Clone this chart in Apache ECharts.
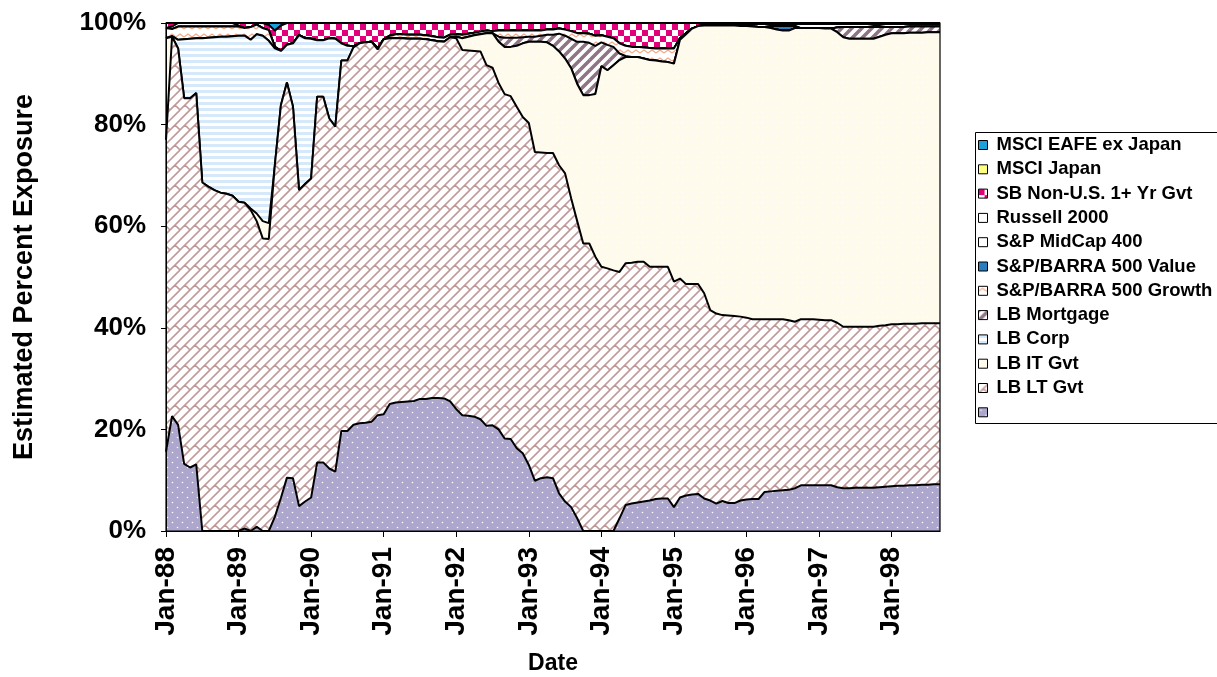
<!DOCTYPE html>
<html><head><meta charset="utf-8">
<script src="https://cdn.jsdelivr.net/npm/echarts/dist/echarts.min.js"></script>
<style>html,body{margin:0;padding:0;background:#fff}#c{width:1217px;height:677px}</style>
</head><body><div id="c"></div>
<script>
// ---------- tick labels ----------
const months = ['Jan','Feb','Mar','Apr','May','Jun','Jul','Aug','Sep','Oct','Nov','Dec'];
const years = ['88','89','90','91','92','93','94','95','96','97','98'];
const yTicks = [0, 20, 40, 60, 80, 100];

// ---------- series values (percent), monthly Jan-88 .. Sep-98 ----------
const unnamed = [15.6,22.6,20.9,13.2,12.5,13.1,0,0,0,0,
0,0,0,0.5,0,0.8,0,0,2.8,6.5,
10.5,10.4,4.9,5.8,6.6,13.5,13.5,12.3,11.7,19.7,
19.7,20.9,21.2,21.3,21.5,22.8,23.0,25.0,25.3,25.4,
25.5,25.6,26.0,26.0,26.2,26.2,26.1,25.5,24.0,22.8,
22.7,22.5,22.0,20.7,20.8,20.0,18.2,18.1,16.3,15.3,
13.0,9.9,10.4,10.6,10.4,7.4,5.8,4.7,2.5,0,
0,0,0,0,0,2.5,5.1,5.4,5.6,5.8,
6.0,6.3,6.4,6.4,4.7,6.6,7.0,7.2,7.3,6.4,
6.0,5.4,5.9,5.5,5.5,6.0,6.2,6.3,6.3,7.7,
7.8,7.9,8.0,8.1,8.4,9.0,9.0,9.0,9.0,9.0,
9.0,8.6,8.4,8.4,8.5,8.5,8.5,8.5,8.6,8.7,
8.8,8.9,8.9,9.0,9.0,9.1,9.1,9.2,9.2];

const lbLtGvt = [61.4,74.7,74.1,72.0,72.7,73.1,68.6,67.8,67.1,66.6,
66.4,66.0,64.8,64.1,63.2,60.2,57.6,57.5,69.2,77.3,
77.8,73.1,62.2,62.5,62.8,72.0,72.0,68.9,67.9,72.9,
72.9,74.3,74.8,74.9,74.8,72.0,73.8,72.0,71.7,71.6,
71.4,71.3,70.9,70.8,70.4,70.2,70.2,71.7,73.0,71.9,
71.9,72.0,72.4,71.0,70.4,68.2,67.8,67.5,67.2,66.2,
67.3,64.7,64.1,63.8,64.0,64.6,64.6,60.8,58.5,56.6,
56.6,54.0,52.0,51.7,51.3,48.5,47.6,47.4,47.4,47.2,
46.0,45.7,45.6,45.6,44.4,43.1,41.6,41.4,41.3,40.4,
37.5,37.4,36.6,36.9,36.8,36.2,35.8,35.4,35.4,34.0,
33.9,33.8,33.7,33.4,32.8,32.7,32.7,32.7,32.6,32.5,
32.5,32.4,31.8,31.8,31.7,31.7,31.7,31.7,31.8,31.8,
31.9,31.8,31.9,31.8,31.8,31.8,31.8,31.7,31.7];

const lbItGvt = [20.0,0,0,0,0,0,0,0,0,0,
0,0,0,0,0.3,1.5,3.4,3.1,0,0,
0,0,0,0,0,0,0,0,0,0,
0,0,0,0,0,0,0,0,0,0,
0,0,0,0,0,0,0,0,0.3,2.3,
2.7,3.1,3.4,6.3,6.8,8.1,9.3,9.7,12.0,14.5,
16.0,21.7,21.8,21.8,21.1,22.4,22.6,25.6,27.0,29.2,
29.2,32.0,39.5,39.0,40.4,41.7,40.6,40.5,40.3,40.0,
40.7,40.6,40.4,40.3,42.9,47.0,49.2,50.3,50.8,52.7,
56.0,56.7,57.0,57.1,57.2,57.2,57.4,57.6,57.5,57.5,
57.3,57.0,56.8,57.0,57.8,57.3,57.3,57.3,57.4,57.4,
57.4,57.2,57.0,56.7,56.7,56.7,56.7,56.7,56.9,57.2,
57.3,57.3,57.2,57.3,57.3,57.2,57.3,57.3,57.3];

const lbCorp = [0,0.1,1.7,11.6,11.7,10.8,28.4,29.3,30.1,30.7,
30.9,31.4,32.7,32.9,33.2,35.3,36.5,35.9,23.0,10.7,
7.4,12.5,30.5,28.7,27.5,11.1,11.1,15.8,17.3,3.4,
2.9,0.2,0,0,0,0.2,0,0,0,0,
0,0,0,0,0,0,0,0,0,0,
0,0,0,0,0,0,0,0,0,0,
0,0,0,0,0,0,0,0,0,0,
0,0,0,0,0,0,0,0,0,0,
0,0,0,0,0,0,0,0,0,0,
0,0,0,0,0,0,0,0,0,0,
0,0,0,0,0,0,0,0,0,0,
0,0,0,0,0,0,0,0,0,0,
0,0,0,0,0,0,0,0,0];

const lbMortgage = [0,0,0,0,0,0,0,0,0,0,
0,0,0,0,0,0,0,0,0,0,
0,0,0,0,0,0,0,0,0,0,
0,0,0,0,0,0,0,0,0,0,
0,0,0,0,0,0,0,0,0,0,
0,0,0,0,0,1.0,1.8,1.8,1.6,1.2,
1.0,1.0,1.2,1.5,2.2,3.5,4.5,5.8,8.3,10.5,
10.3,9.5,4.7,5.0,3.6,1.3,0.2,0,0,0,
0,0,0,0,0,0,0,0,0,0,
0,0,0,0,0,0,0,0,0,0,
0,0,0,0,0,0,0,0,0,0,
0,0.9,2.0,2.3,2.3,2.3,2.3,2.3,1.9,1.5,
1.2,1.2,1.2,1.2,1.2,1.2,1.1,1.1,1.1];

const spGrowth = [2.0,1.4,2.6,2.5,2.4,2.3,2.3,2.2,2.1,2.0,
2.0,1.9,1.8,1.5,2.5,1.9,1.5,2.1,0.3,0,
0,0,0,0,0,0,0,0,0,0,
0,0,0,0,0,0,0,0.5,0.8,0.8,
0.8,0.8,0.8,0.8,0.8,0.8,0.8,0.5,0.5,0.7,
0.6,0.5,0.5,0.5,0.4,1.2,1.4,1.4,1.4,1.3,
1.2,1.2,1.0,1.0,1.0,1.0,1.2,1.5,1.7,1.7,
1.8,2.0,1.4,1.6,1.7,2.0,2.0,2.0,2.0,2.2,
2.4,2.4,2.6,2.7,3.0,0.3,0.2,0,0,0,
0,0,0,0,0,0,0,0,0,0,
0,0,0,0,0,0,0,0,0,0,
0,0,0,0,0,0,0,0,0,0,
0,0,0,0,0,0,0,0,0];

const spValue = [0,0,0,0,0,0,0,0,0,0,
0,0,0,0,0,0,0,0,0,0,
0,0,0,0,0,0,0,0,0,0,
0,0,0,0,0,0,0,0,0,0,
0,0,0,0,0,0,0,0,0,0,
0,0,0,0,0,0,0,0,0,0,
0,0,0,0,0,0,0,0,0,0,
0,0,0,0,0,0,0,0,0,0,
0,0,0,0,0,0,0,0,0,0,
0,0,0,0,0,0,0,0,0,0,
0.4,0.7,0.9,0.9,0.4,0,0,0,0,0,
0,0,0,0,0,0,0,0,0,0,
0,0,0,0,0,0,0,0,0];

const spMidCap = [0,0,0,0,0,0,0,0,0,0,
0,0,0,0,0,0,0,0,0,0,
0,0,0,0,0,0,0,0,0,0,
0,0,0,0,0,0,0,0,0,0,
0,0,0,0,0,0,0,0,0,0,
0,0,0,0,0,0,0,0,0,0,
0,0,0,0,0,0,0,0,0,0,
0,0,0,0,0,0,0,0,0,0,
0,0,0,0,0,0,0,0,0,0,
0,0,0,0,0,0,0,0,0,0,
0,0,0,0,0,0,0,0,0,0,
0,0,0,0,0,0,0,0,0,0,
0,0,0,0,0,0,0,0,0];

const russell = [0,0.5,0.7,0.7,0.7,0.7,0.7,0.7,0.7,0.7,
0.7,0.7,0.2,0,0,0,0,0,0,0,
0,0,0,0,0,0,0,0,0,0,
0,0,0,0,0,0,0,0,0,0,
0,0,0,0,0,0,0,0,0,0,
0,0,0,0,0,0,0,0,0,0,
0,0,0,0,0,0,0,0,0,0,
0,0,0,0,0,0,0,0,0,0,
0,0,0,0,0,0,0,0,0,0.3,
0.3,0.3,0.3,0.3,0.3,0.4,0.4,0.5,0.6,0.6,
0.4,0.4,0.4,0.4,0.4,0.8,0.8,0.8,0.8,0.9,
0.9,0.7,0.6,0.6,0.6,0.6,0.6,0.4,0.4,0.6,
0.6,0.6,0.6,0.5,0.5,0.5,0.5,0.5,0.5];

const sbNonUS = [1.0,0.7,0,0,0,0,0,0,0,0,
0,0,0.5,1.0,0.8,0.3,1.0,1.0,3.2,5.0,
4.3,4.0,2.4,3.0,3.1,3.4,3.4,3.0,3.1,4.0,
4.5,4.6,4.0,3.8,3.7,5.0,3.2,2.5,2.2,2.2,
2.3,2.3,2.3,2.4,2.6,2.8,2.9,2.3,2.2,2.3,
2.1,1.9,1.7,1.5,1.6,1.5,1.5,1.5,1.5,1.5,
1.5,1.5,1.5,1.3,1.3,1.1,1.3,1.6,2.0,2.0,
2.1,2.5,2.4,2.7,3.0,4.0,4.5,4.7,4.7,4.8,
4.9,5.0,5.0,5.0,5.0,3.0,2.0,1.1,0.6,0.2,
0.2,0.2,0.2,0.2,0.2,0.2,0.2,0.2,0.2,0.2,
0.2,0.2,0.2,0.2,0.2,0.2,0.2,0.2,0.2,0.2,
0.2,0.2,0.2,0.2,0.2,0.2,0.2,0.2,0.2,0.2,
0.2,0.2,0.2,0.2,0.2,0.2,0.2,0.2,0.2];

const msciJapan = [0,0,0,0,0,0,0,0,0,0,
0,0,0,0,0,0,0,0,0,0,
0,0,0,0,0,0,0,0,0,0,
0,0,0,0,0,0,0,0,0,0,
0,0,0,0,0,0,0,0,0,0,
0,0,0,0,0,0,0,0,0,0,
0,0,0,0,0,0,0,0,0,0,
0,0,0,0,0,0,0,0,0,0,
0,0,0,0,0,0,0,0,0,0,
0,0,0,0,0,0,0,0,0,0,
0,0,0,0,0,0,0,0,0,0,
0,0,0,0,0,0,0,0,0,0,
0,0,0,0,0,0,0,0,0];

const msciEafe = [0,0,0,0,0,0,0,0,0,0,
0,0,0,0,0,0,0,0.4,1.5,0.5,
0,0,0,0,0,0,0,0,0,0,
0,0,0,0,0,0,0,0,0,0,
0,0,0,0,0,0,0,0,0,0,
0,0,0,0,0,0,0,0,0,0,
0,0,0,0,0,0,0,0,0,0,
0,0,0,0,0,0,0,0,0,0,
0,0,0,0,0,0,0,0,0,0,
0,0,0,0,0,0,0,0,0,0,
0,0,0,0,0,0,0,0,0,0,
0,0,0,0,0,0,0,0.2,0.2,0,
0,0,0,0,0,0,0,0,0];

// ---------- categories from the tick-label arrays ----------
const categories = [];
years.forEach(y => months.forEach(m => categories.push(m + '-' + y)));
categories.length = unnamed.length;

// ---------- fill patterns ----------
function tile(w, h, fn) { const c = document.createElement('canvas'); c.width = w; c.height = h; const g = c.getContext('2d'); fn(g, w, h); return c; }
function pat(c) { return { image: c, repeat: 'repeat' }; }
function seg(g, T, x1, y1, x2, y2) { for (const dx of [-T, 0, T]) for (const dy of [-T, 0, T]) { g.moveTo(x1 + dx, y1 + dy); g.lineTo(x2 + dx, y2 + dy); } }

const pDots = pat(tile(10, 10, (g) => { g.fillStyle = '#AEA7CD'; g.fillRect(0, 0, 10, 10); g.fillStyle = '#fff'; g.beginPath(); g.arc(2.5, 2.5, 0.8, 0, 7); g.arc(7.5, 7.5, 0.8, 0, 7); g.fill(); }));
const pBrick = pat(tile(20, 20, (g) => { g.fillStyle = '#fff'; g.fillRect(0, 0, 20, 20); g.strokeStyle = '#C09898'; g.lineWidth = 1.6; g.beginPath(); seg(g, 20, 0, 20, 20, 0); seg(g, 20, 0, 10, 10, 0); seg(g, 20, 10, 20, 20, 10); seg(g, 20, 5, 5, 10, 10); seg(g, 20, 15, 5, 20, 10); g.stroke(); }));
const pCream = pat(tile(10, 10, (g) => { g.fillStyle = '#FFFBEC'; g.fillRect(0, 0, 10, 10); g.fillStyle = '#fff'; g.fillRect(2, 2, 1, 1); g.fillRect(7, 7, 1, 1); }));
const pCorp = pat(tile(2, 6, (g) => { g.fillStyle = '#fff'; g.fillRect(0, 0, 2, 6); g.fillStyle = '#D5E9FA'; g.fillRect(0, 0, 2, 3); }));
const pMort = pat(tile(10, 10, (g) => { g.fillStyle = '#fff'; g.fillRect(0, 0, 10, 10); g.strokeStyle = '#8E7585'; g.lineWidth = 3.5; g.beginPath(); seg(g, 10, 0, 10, 10, 0); g.stroke(); }));
const pZig = pat(tile(8, 8, (g) => { g.fillStyle = '#fff'; g.fillRect(0, 0, 8, 8); g.strokeStyle = '#F4A888'; g.lineWidth = 1.1; g.beginPath(); g.moveTo(0, 5); g.lineTo(4, 2); g.lineTo(8, 5); g.stroke(); }));
const pCheck = pat(tile(12, 12, (g) => { g.fillStyle = '#fff'; g.fillRect(0, 0, 12, 12); g.fillStyle = '#E2007A'; g.fillRect(0, 0, 6, 6); g.fillRect(6, 6, 6, 6); }));

const FONT = 'Liberation Sans, Arial, Helvetica, sans-serif';

const defs = [
  { name: ' ', data: unnamed, fill: pDots },
  { name: 'LB LT Gvt', data: lbLtGvt, fill: pBrick },
  { name: 'LB IT Gvt', data: lbItGvt, fill: pCream },
  { name: 'LB Corp', data: lbCorp, fill: pCorp },
  { name: 'LB Mortgage', data: lbMortgage, fill: pMort },
  { name: 'S&P/BARRA 500 Growth', data: spGrowth, fill: pZig },
  { name: 'S&P/BARRA 500 Value', data: spValue, fill: '#2A7CC0' },
  { name: 'S&P MidCap 400', data: spMidCap, fill: '#FFFFFF' },
  { name: 'Russell 2000', data: russell, fill: '#FFFFFF' },
  { name: 'SB Non-U.S. 1+ Yr Gvt', data: sbNonUS, fill: pCheck },
  { name: 'MSCI Japan', data: msciJapan, fill: '#FFFF80' },
  { name: 'MSCI EAFE ex Japan', data: msciEafe, fill: '#1CA0DC' }
];

const series = defs.map((d, k) => ({
  type: 'line', name: d.name, data: d.data, stack: 'total',
  showSymbol: false, symbol: 'none', smooth: false,
  z: 30 - k,
  lineStyle: { color: '#000', width: 2 },
  itemStyle: { color: d.fill },
  areaStyle: { color: d.fill, opacity: 1 },
  emphasis: { disabled: true },
  silent: true
}));

const legendData = defs.slice().reverse().map(d => ({
  name: d.name, icon: 'rect',
  itemStyle: { color: d.fill, borderColor: '#000', borderWidth: 1 }
}));

const chart = echarts.init(document.getElementById('c'), null, { renderer: 'canvas' });
chart.setOption({
  animation: false,
  backgroundColor: '#fff',
  grid: { left: 166, top: 23, width: 774, height: 508, containLabel: false, outerBoundsMode: 'none' },
  xAxis: {
    type: 'category', data: categories, boundaryGap: false, z: 50,
    axisLine: { show: true, lineStyle: { color: '#000', width: 1 } },
    axisTick: { show: true, interval: 11, length: 6, inside: false, lineStyle: { color: '#000' } },
    axisLabel: { interval: 11, rotate: 90, margin: 16, fontSize: 28, fontWeight: 'bold', color: '#000', fontFamily: FONT },
    splitLine: { show: false },
    name: 'Date', nameLocation: 'middle', nameGap: 121,
    nameTextStyle: { fontSize: 23, fontWeight: 'bold', color: '#000', fontFamily: FONT }
  },
  yAxis: {
    type: 'value', min: yTicks[0], max: yTicks[yTicks.length - 1], interval: 20, z: 50,
    axisLine: { show: true, lineStyle: { color: '#000', width: 1 } },
    axisTick: { show: true, length: 5, lineStyle: { color: '#000' } },
    splitLine: { show: false },
    axisLabel: { formatter: '{value}%', margin: 20, fontSize: 26, fontWeight: 'bold', color: '#000', fontFamily: FONT },
    name: 'Estimated Percent Exposure', nameLocation: 'middle', nameGap: 128,
    nameTextStyle: { fontSize: 27, fontWeight: 'bold', color: '#000', fontFamily: FONT }
  },
  legend: {
    orient: 'vertical', left: 978, top: 135, itemWidth: 9, itemHeight: 9, itemGap: 4.3,
    selectedMode: false, z: 10, padding: 0,
    textStyle: { fontSize: 18.5, fontWeight: 'bold', color: '#000', fontFamily: FONT, lineHeight: 20, padding: [0, 0, 0, 4] },
    data: legendData
  },
  graphic: [
    { type: 'rect', left: 975, top: 132, shape: { width: 260, height: 291 }, style: { fill: '#fff', stroke: '#000', lineWidth: 1 }, z: 1, silent: true },
    { type: 'rect', shape: { x: 166, y: 23, width: 774, height: 508 }, style: { fill: null, stroke: '#000', lineWidth: 1.2 }, z: 100, silent: true }
  ],
  series: series
});
</script>
</body></html>
